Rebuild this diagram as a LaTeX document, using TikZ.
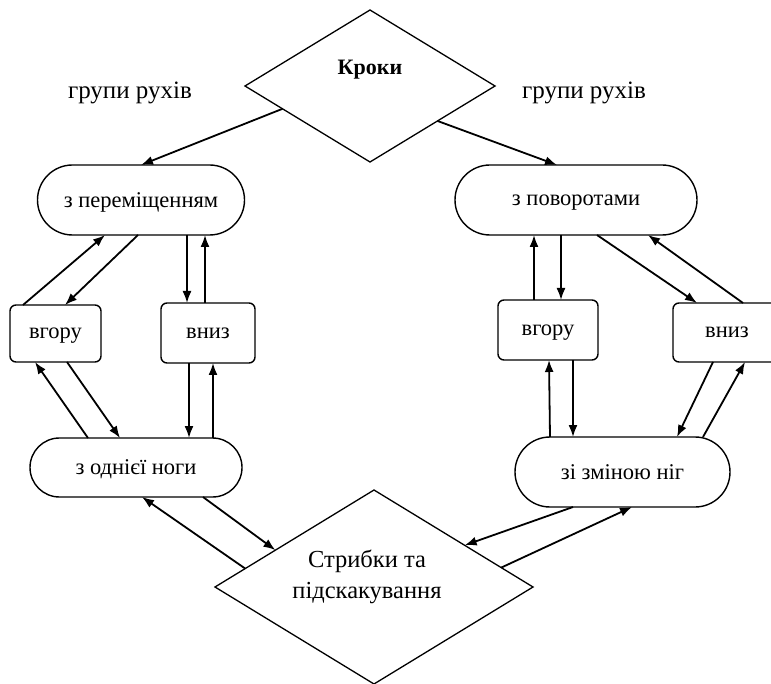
\documentclass[tikz,border=0pt]{standalone}
\usepackage{fontspec}
\setmainfont{Liberation Serif}
\usetikzlibrary{shapes.geometric,arrows.meta,calc}
\tikzset{
  stad/.style={draw, line width=1.4pt, rectangle, rounded corners=#1, inner sep=0pt, outer sep=0pt, text depth=0pt, font=\fontsize{22.5}{26}\selectfont},
  smallbox/.style={draw, line width=1.4pt, rectangle, rounded corners=6pt, inner sep=0pt, outer sep=0pt, text depth=0pt, font=\fontsize{22.5}{26}\selectfont},
  dia/.style={draw, line width=1.3pt, diamond, inner sep=0pt, outer sep=0pt},
  lbl/.style={inner sep=0pt, font=\fontsize{25}{28}\selectfont},
  arr/.style={line width=1.8pt, -{Latex[length=12pt,width=9pt]}}
}
\begin{document}
\begin{tikzpicture}[x=1pt,y=-1pt]
\useasboundingbox (0,0) rectangle (771,684);
% diamonds
\node[dia, minimum width=250pt, minimum height=152pt] (K) at (370,86) {};
\node[lbl, font=\fontsize{22}{26}\selectfont\bfseries] (Kt) at (370,70) {Кроки};
\node[dia, minimum width=318pt, minimum height=194pt] (S) at (374,587) {};
\node[lbl, align=center, font=\fontsize{24.5}{31}\selectfont] (St) at (367,577) {Стрибки та\\підскакування};
% labels
\node[lbl] (g1) at (130,93) {групи рухів};
\node[lbl] (g2) at (584,93) {групи рухів};
% stadiums
\node[stad=35pt, minimum width=207pt, minimum height=70pt] (sp) at (141,200) {з переміщенням};
\node[stad=35pt, minimum width=242pt, minimum height=70pt] (sv) at (576,200) {з поворотами};
\node[stad=29.5pt, minimum width=212pt, minimum height=59pt] (so) at (136,467.5) {з однієї ноги};
\node[stad=35pt, minimum width=215pt, minimum height=70pt] (sz) at (622.5,472) {зі зміною ніг};
% small boxes
\node[smallbox, minimum width=91pt, minimum height=57pt] (lu) at (55.5,333.5) {вгору};
\node[smallbox, minimum width=94pt, minimum height=60pt] (ld) at (208,333) {вниз};
\node[smallbox, minimum width=100pt, minimum height=60pt] (ru) at (548,330) {вгору};
\node[smallbox, minimum width=108pt, minimum height=59pt] (rd) at (727,332.5) {вниз};
% top
\draw[arr] ($(K.west)!0.3!(K.south)$) -- (sp.north);
\draw[arr] ($(K.east)!0.46!(K.south)$) -- ([xshift=-19pt]sv.north);
% left upper
\draw[arr] ([xshift=-32.5pt]lu.north) -- ([xshift=-36pt]sp.south);
\draw[arr] ([xshift=-3pt]sp.south) -- ([xshift=9.5pt]lu.north);
\draw[arr] ([xshift=46pt]sp.south) -- ([xshift=-21pt]ld.north);
\draw[arr] ([xshift=-3pt]ld.north) -- ([xshift=64pt]sp.south);
% left lower
\draw[arr] ([xshift=-48pt]so.north) -- ([xshift=-20.5pt]lu.south);
\draw[arr] ([xshift=11.5pt]lu.south) -- ([xshift=-16pt]so.north);
\draw[arr] ([xshift=-19pt]ld.south) -- ([xshift=53pt]so.north);
\draw[arr] ([xshift=77pt]so.north) -- ([xshift=5pt]ld.south);
% bottom left
\draw[arr] ($(S.west)!0.19!(S.north)$) -- ([xshift=6pt]so.south);
\draw[arr] ([xshift=67pt]so.south) -- ($(S.west)!0.38!(S.north)$);
% right upper
\draw[arr] ([xshift=-14pt]ru.north) -- ([xshift=-42pt]sv.south);
\draw[arr] ([xshift=-15pt]sv.south) -- ([xshift=13pt]ru.north);
\draw[arr] ([xshift=21pt]sv.south) -- ([xshift=-30pt]rd.north);
\draw[arr] ([xshift=16pt]rd.north) -- ([xshift=72pt]sv.south);
% right lower
\draw[arr] ([xshift=-72.5pt]sz.north) -- ([xshift=1pt]ru.south);
\draw[arr] ([xshift=25pt]ru.south) -- ([xshift=-49.5pt]sz.north);
\draw[arr] ([xshift=-14pt]rd.south) -- ([xshift=54.5pt]sz.north);
\draw[arr] ([xshift=80.5pt]sz.north) -- ([xshift=18pt]rd.south);
% bottom right
\draw[arr] ([xshift=-49.5pt]sz.south) -- ($(S.east)!0.43!(S.north)$);
\draw[arr] ($(S.east)!0.2!(S.north)$) -- ([xshift=9.5pt]sz.south);
\end{tikzpicture}
\end{document}
